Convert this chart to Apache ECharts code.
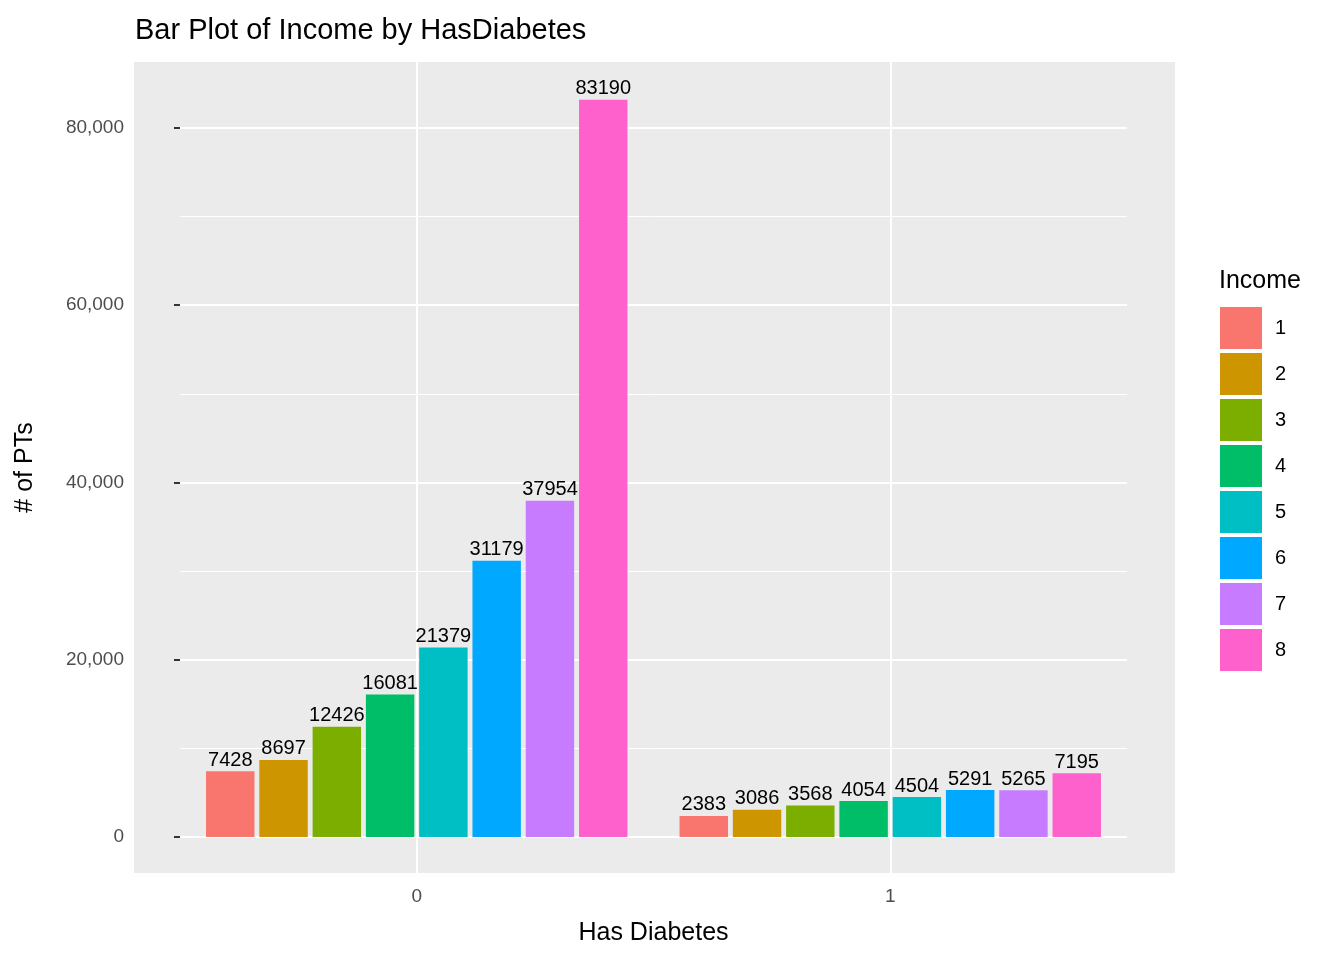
<!DOCTYPE html>
<html><head><meta charset="utf-8">
<script src="https://cdn.jsdelivr.net/npm/echarts@6/dist/echarts.min.js"></script>
<style>html,body{margin:0;background:#fff}#c{width:1344px;height:960px}</style>
</head><body><div id="c"></div>
<script>
const categories = ['0', '1'];
const incomeLevels = ['1', '2', '3', '4', '5', '6', '7', '8'];
const noDiabetes = [7428, 8697, 12426, 16081, 21379, 31179, 37954, 83190];
const hasDiabetes = [2383, 3086, 3568, 4054, 4504, 5291, 5265, 7195];
const colors = ['#F8766D', '#CD9600', '#7CAE00', '#00BE67', '#00BFC4', '#00A9FF', '#C77CFF', '#FF61CC'];
const majorTicks = [0, 20000, 40000, 60000, 80000];
const minorTicks = [10000, 30000, 50000, 70000];

const font = 'Liberation Sans, Arial, sans-serif';
const series = incomeLevels.map((lvl, i) => ({
  name: lvl, type: 'bar', z: 5,
  data: [noDiabetes[i], hasDiabetes[i]],
  itemStyle: { color: colors[i] },
  barGap: '10%', barCategoryGap: '11%',
  label: { show: true, position: 'top', distance: 1, color: '#000', fontSize: 20, fontFamily: font }
}));
series.push({
  type: 'line', data: [], z: 1, silent: true, symbol: 'none',
  markLine: {
    silent: true, symbol: 'none', label: { show: false }, animation: false,
    data: majorTicks.map(v => ({ yAxis: v, lineStyle: { color: '#fff', width: 2, type: 'solid' } }))
      .concat(minorTicks.map(v => ({ yAxis: v, lineStyle: { color: '#fff', width: 1, type: 'solid' } })))
      .concat(categories.map(c => ({ xAxis: c, lineStyle: { color: '#fff', width: 2, type: 'solid' } })))
  }
});

const chart = echarts.init(document.getElementById('c'));
chart.setOption({
  backgroundColor: '#fff',
  animation: false,
  color: colors,
  title: [
    { text: 'Bar Plot of Income by HasDiabetes', left: 130, top: 11, textStyle: { fontSize: 29, fontWeight: 'normal', color: '#000', fontFamily: font } },
    { text: 'Income', left: 1214, top: 264, textStyle: { fontSize: 25, fontWeight: 'normal', color: '#000', fontFamily: font } }
  ],
  graphic: [{ type: 'rect', z: -10, shape: { x: 134, y: 62, width: 1041, height: 811 }, style: { fill: '#EBEBEB' } }],
  grid: { left: 180, right: 217, top: 62, bottom: 87, show: false },
  legend: {
    orient: 'vertical', left: 1215, top: 302, icon: 'rect',
    itemWidth: 42, itemHeight: 42, itemGap: 4,
    data: incomeLevels,
    textStyle: { fontSize: 20, color: '#000', fontFamily: font, padding: [0, 0, 0, 8] }
  },
  xAxis: {
    type: 'category', data: categories,
    name: 'Has Diabetes', nameLocation: 'middle', nameGap: 48,
    nameTextStyle: { fontSize: 25, color: '#000', fontFamily: font },
    axisLine: { show: false },
    axisTick: { show: true, alignWithLabel: true, length: 6, lineStyle: { color: '#333', width: 2 } },
    axisLabel: { fontSize: 19, color: '#4D4D4D', fontFamily: font, margin: 14 },
    splitLine: { show: false }
  },
  yAxis: {
    type: 'value', min: -4062, max: 87447,
    name: '# of PTs', nameLocation: 'middle', nameGap: 142,
    nameTextStyle: { fontSize: 25, color: '#000', fontFamily: font },
    axisLine: { show: false },
    axisTick: { show: true, length: 6, customValues: majorTicks, lineStyle: { color: '#333', width: 2 } },
    axisLabel: {
      customValues: majorTicks, fontSize: 19, color: '#4D4D4D', fontFamily: font, margin: 56,
      formatter: v => v.toLocaleString('en-US')
    },
    splitLine: { show: false }
  },
  series: series
});
</script></body></html>
